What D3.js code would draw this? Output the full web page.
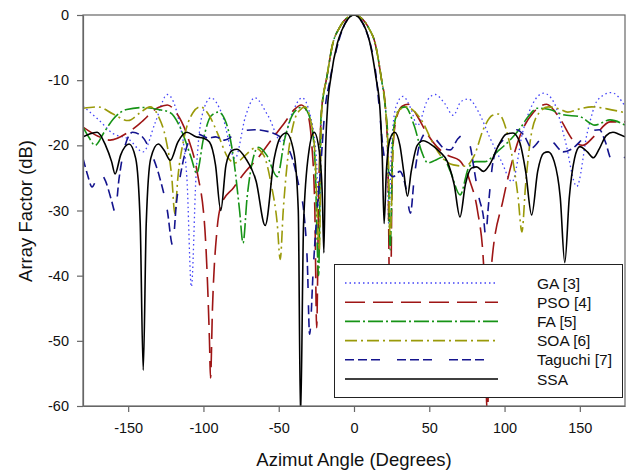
<!DOCTYPE html>
<html>
<head>
<meta charset="utf-8">
<script src="https://cdn.jsdelivr.net/npm/d3@7"></script>
<style>
  body { margin: 0; background: #fff; }
  text { font-family: "Liberation Sans", Arial, sans-serif; }
</style>
</head>
<body>
<div id="chart"></div>
<script>
// angle (deg) / array factor (dB)
var gaDeg = [-180,-170,-160,-150,-140,-132,-124,-116,-111,-108,-105,-101,-95,-88,-79,-72,-66,-57,-48,-41,-34.5,-29,-25,-23,-21.5,-18,-14,-10,-7,-3,0,3,7,10,14,18,21,22,23,25,28,32.5,38,42,49,54,60,66,71,76,83,90,98,105,112,119,126,133,140,148,155,162,171,180];
var gaDb  = [-14,-16,-18.2,-19,-21,-16.5,-12.2,-16.5,-25,-41.7,-25,-15.5,-12.7,-15,-22,-15.5,-12.7,-15.5,-19.5,-15,-12.7,-15.5,-22,-32,-14.6,-9.5,-4.3,-2.1,-1.0,-0.2,0,-0.2,-1.0,-2.1,-4.3,-9.5,-14.6,-18,-32,-20,-14,-12.5,-14.5,-17,-13,-12.2,-13.5,-15.4,-13.3,-12.9,-15,-18.7,-22.5,-25.6,-18,-13.5,-12,-13.5,-19,-26.3,-18,-13,-11.9,-14];

var psoDeg = [-180,-170,-162,-150,-142,-130,-124,-118,-110,-104,-99,-96,-95.3,-94,-91,-88,-80,-72,-64.7,-55,-46,-40,-35,-31,-28,-26,-24.8,-23.5,-21.5,-18,-14,-10,-7,-3,0,3,7,10,14,18,21,22.5,24,25.5,28,32,36,42,48,55,62,70,77,82,86,88.5,91.5,99,105,110,119,128,137,145.5,152,160,170,180];
var psoDb  = [-17.2,-18.6,-19.2,-18,-16.6,-14.2,-13.8,-15,-19,-24.3,-33,-50,-55.7,-45,-33,-29,-26.5,-24,-22.2,-19.2,-16.5,-14.6,-13.8,-15,-20,-30,-48,-28,-14.6,-9.5,-4.3,-2.1,-1.0,-0.2,0,-0.2,-1.0,-2.1,-4.3,-9.5,-14.6,-22,-50,-22,-16,-14,-13.7,-15.5,-18,-20.2,-21.5,-22.3,-25.5,-30,-38,-61,-38,-28.4,-22.5,-18.7,-15,-13.7,-16,-19.2,-20,-18.5,-16.4,-16.4];

var faDeg = [-180,-176,-172,-166,-160,-151,-140,-130,-122,-115,-108,-104.5,-100,-95,-90,-85,-80,-76,-73.7,-71,-67,-63.5,-58,-51,-46,-40,-34,-29,-26,-23.5,-22,-18,-14,-10,-7,-3,0,3,7,10,14,18,21,22.5,24,26,30,34,40,45,49,54,59,64,70.5,76,81,87,95,103.6,110,116,122,130,139,150,160,170,180];
var faDb  = [-17.2,-18.8,-20,-18,-16,-14.5,-14.2,-14.5,-15,-17.5,-22,-24.3,-19,-15.5,-14.9,-16.5,-22,-30,-35,-28,-22,-20.3,-21.5,-24.8,-19,-15,-14.1,-16,-22,-40,-16,-9.5,-4.3,-2.1,-1.0,-0.2,0,-0.2,-1.0,-2.1,-4.3,-9.5,-14.6,-19,-36,-18,-14.5,-14.1,-17,-21,-22.7,-22.3,-21.8,-24,-27.6,-23.5,-22.5,-22.5,-21,-19.2,-17.5,-15.5,-14.3,-14.5,-15.3,-15.6,-16.9,-16.1,-16.9];

var soaDeg = [-180,-170,-160,-150,-142,-135.5,-130,-125,-121,-119,-117,-113,-107,-102,-96,-90,-84,-79,-72,-65.7,-60,-55,-51,-49,-47,-44,-40,-36,-32.5,-29,-26,-23,-21.5,-18,-14,-10,-7,-3,0,3,7,10,14,18,21,22.5,24,26.5,30,35,41,46,52,59,66,74,80,86,92,96,101,106,109,111.5,114,118,123,129,136,142,150,158,168,180];
var soaDb  = [-14.3,-14.1,-15.2,-16.2,-15,-14.1,-15.5,-19,-25,-30.5,-25,-19,-15,-14.1,-15.5,-18.5,-21.8,-22.7,-21.5,-20.4,-21.5,-26,-32,-37.5,-30,-22,-16.5,-14.6,-14.1,-16,-21,-36,-14.6,-9.5,-4.3,-2.1,-1.0,-0.2,0,-0.2,-1.0,-2.1,-4.3,-9.5,-14.6,-20,-34,-18,-14.6,-14.1,-15,-16.6,-19.5,-22,-23,-23.2,-21.5,-17.5,-15.4,-15.2,-17.5,-23,-28,-33.3,-26,-18,-15,-14.1,-14.4,-14.9,-14.4,-14.1,-14.4,-15];

var tagDeg = [-180,-177,-174,-170,-168.5,-165,-161,-158.7,-156,-152,-147,-141,-135,-129,-124,-120.5,-118,-114,-110,-105.6,-100,-97,-92,-86,-77,-66,-54,-46,-41,-37,-33,-31,-29.5,-27,-24.5,-22.6,-19.3,-16,-12,-8,-4,0,4,8,12,14.5,16.5,19.4,22.6,26,30.5,34,37.5,40,44,48.5,54,60,64,69,72.5,77,80,83,86,87.5,89,92,95,100,108,113,118,125.5,132,139,145,152,158,163,167,171,175,180];
var tagDb  = [-22,-24.5,-26.4,-24.6,-24.3,-25.5,-28.5,-30.2,-25,-20,-18,-18.6,-21,-25,-30,-35.3,-29,-23,-19.5,-18.1,-18.6,-18.9,-18.7,-19.2,-18,-17.6,-18.1,-19.5,-22,-25.8,-31,-38,-49,-38.7,-30,-24.8,-14.6,-10,-5.6,-2.4,-0.6,0,-0.6,-2.4,-5.6,-9,-13.5,-20.7,-23.8,-24.8,-24,-26,-30.4,-25,-19.5,-18,-19,-20.5,-20.7,-19,-18.4,-20,-24,-28,-31,-34,-30,-23,-20.5,-19,-17.6,-18.5,-20.4,-18.9,-19.5,-21,-20.5,-19,-17.8,-17.6,-19.5,-22.2,-22.5,-21.8];

var ssaDeg = [-180,-176,-170.6,-165,-161,-158.7,-155,-149.4,-145,-142,-140,-138,-135,-130,-126,-122,-117,-111,-105,-100,-96,-92,-88.5,-85,-81,-77.7,-72,-65,-59,-53,-49,-45,-40,-37,-35.5,-33.5,-30,-26.5,-23,-21,-20,-19,-17.7,-15.3,-11,-8,-4,0,4,8,10.6,14.5,17.3,18.8,20,21.5,24,27,30.5,33,35.5,38,42,46,52,57,62,66.5,70.4,74,78,81.5,86,90,96,101,105.6,110,114,118,122,126,129,133,137,140,143,146.5,150,155,159,163,167.5,172,176,180];
var ssaDb  = [-18.7,-18.3,-18,-20,-22.5,-24.4,-21.5,-19.8,-22,-32,-54.5,-32,-22,-19.8,-20.8,-22.3,-19.5,-18,-18.7,-18.9,-19.5,-23,-30,-23,-20.8,-20.6,-22,-25.5,-32.3,-22,-18.8,-18.1,-21,-30,-62,-32,-21,-18,-21,-28,-36.5,-22,-14.6,-9.5,-4.3,-2.3,-0.6,0,-0.6,-2.3,-4.3,-9.5,-14.6,-22,-32,-24,-19,-18,-20,-24,-27.8,-24,-20,-19.3,-20,-21,-22.5,-26,-31,-26,-23.5,-23.3,-24,-23,-20,-18.3,-18.1,-19.5,-24,-30.7,-24,-21.2,-21,-22.5,-28,-38,-28,-22,-20.2,-21,-21.9,-20.5,-18.5,-18,-18.3,-18.7];

var seriesNames = ["GA [3]", "PSO [4]", "FA [5]", "SOA [6]", "Taguchi [7]", "SSA"];
var xTicks = [-150, -100, -50, 0, 50, 100, 150];
var yTicks = [0, -10, -20, -30, -40, -50, -60];

var W = 626, H = 474;
var plotL = 83, plotR = 625, plotT = 15, plotB = 406;

var series = [
  { name: seriesNames[0], deg: gaDeg,  db: gaDb,  color: "#4444f8", dash: "1.5,3",        width: 1.3 },
  { name: seriesNames[1], deg: psoDeg, db: psoDb, color: "#9e1515", dash: "20,8",         width: 1.6 },
  { name: seriesNames[2], deg: faDeg,  db: faDb,  color: "#169316", dash: "15,3,2,3",     width: 1.6 },
  { name: seriesNames[3], deg: soaDeg, db: soaDb, color: "#9a9a0a", dash: "12,4,2,4",     width: 1.6 },
  { name: seriesNames[4], deg: tagDeg, db: tagDb, color: "#14148e", dash: "9,4,9,4,9,17", width: 1.6 },
  { name: seriesNames[5], deg: ssaDeg, db: ssaDb, color: "#000000", dash: null,           width: 1.6 }
];

var svg = d3.select("#chart").append("svg")
  .attr("width", W)
  .attr("height", H);

var x = d3.scaleLinear().domain([-180, 180]).range([plotL, plotR]);
var y = d3.scaleLinear().domain([-60, 0]).range([plotB, plotT]);

svg.append("clipPath").attr("id", "plot")
  .append("rect")
  .attr("x", plotL).attr("y", plotT)
  .attr("width", plotR - plotL).attr("height", plotB - plotT);

var line = d3.line()
  .x(d => x(d[0]))
  .y(d => y(d[1]))
  .curve(d3.curveMonotoneX);

var curves = svg.append("g").attr("clip-path", "url(#plot)");

series.forEach(s => {
  curves.append("path")
    .datum(s.deg.map((a, i) => [a, s.db[i]]))
    .attr("fill", "none")
    .attr("stroke", s.color)
    .attr("stroke-width", s.width)
    .attr("stroke-dasharray", s.dash)
    .attr("d", line);
});

// frame
svg.append("rect")
  .attr("x", plotL).attr("y", plotT)
  .attr("width", plotR - plotL).attr("height", plotB - plotT)
  .attr("fill", "none")
  .attr("stroke", "#666")
  .attr("stroke-width", 1.2);

var fmt = d => String(d);

var xAxis = svg.append("g")
  .attr("transform", `translate(0,${plotB})`)
  .call(d3.axisBottom(x).tickValues(xTicks).tickSize(6).tickSizeOuter(0).tickPadding(11).tickFormat(fmt));

var yAxis = svg.append("g")
  .attr("transform", `translate(${plotL},0)`)
  .call(d3.axisLeft(y).tickValues(yTicks).tickSize(6).tickSizeOuter(0).tickPadding(8).tickFormat(fmt));

[xAxis, yAxis].forEach(g => {
  g.select(".domain").attr("stroke", "#666").attr("stroke-width", 1.2);
  g.selectAll(".tick line").attr("stroke", "#666").attr("stroke-width", 1.2);
  g.selectAll(".tick text")
    .style("font-size", "14.5px")
    .style("font-family", "'Liberation Sans', Arial, sans-serif")
    .attr("fill", "#111");
});

svg.append("text")
  .attr("x", 354)
  .attr("y", 466)
  .attr("text-anchor", "middle")
  .style("font-size", "18.5px")
  .attr("fill", "#111")
  .text("Azimut Angle (Degrees)");

svg.append("text")
  .attr("transform", `translate(32,211) rotate(-90)`)
  .attr("text-anchor", "middle")
  .style("font-size", "18.5px")
  .attr("fill", "#111")
  .text("Array Factor (dB)");

// legend
var legend = svg.append("g");
legend.append("rect")
  .attr("x", 334.5).attr("y", 264.5)
  .attr("width", 288).attr("height", 133)
  .attr("fill", "#fff")
  .attr("stroke", "#222")
  .attr("stroke-width", 1);

series.forEach((s, i) => {
  var ly = 283 + i * 19.2;
  legend.append("line")
    .attr("x1", 345).attr("x2", 498)
    .attr("y1", ly).attr("y2", ly)
    .attr("stroke", s.color)
    .attr("stroke-width", s.width)
    .attr("stroke-dasharray", s.dash);
  legend.append("text")
    .attr("x", 537)
    .attr("y", ly + 5.5)
    .style("font-size", "15.5px")
    .attr("fill", "#111")
    .text(s.name);
});
</script>
</body>
</html>
